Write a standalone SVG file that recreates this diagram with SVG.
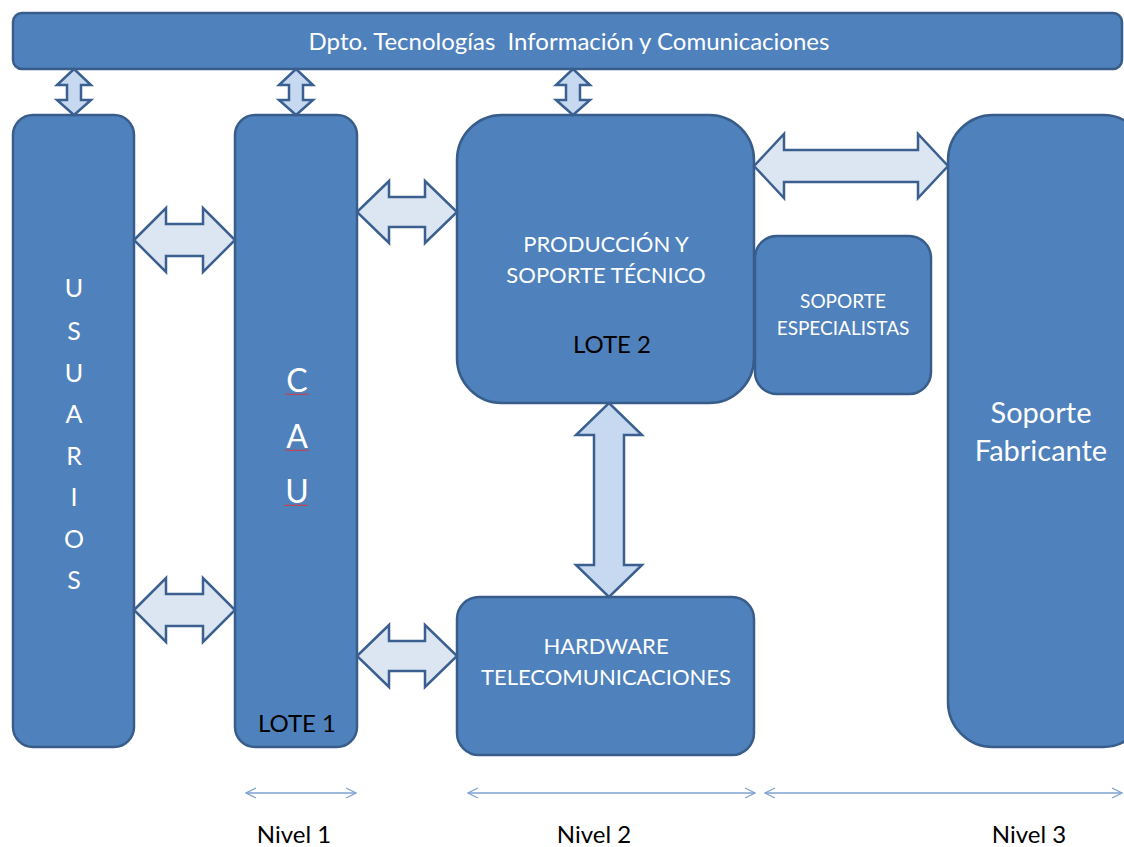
<svg xmlns="http://www.w3.org/2000/svg" width="1124" height="847" viewBox="0 0 1124 847">
<style>
.box{fill:#4F81BD;stroke:#385D8A;stroke-width:2.5}
.ah{fill:#DCE6F2;stroke:#3B6090;stroke-width:2.5;stroke-linejoin:miter}
.av{fill:#C6D9F1;stroke:#3B6090;stroke-width:2.5;stroke-linejoin:miter}
.w{fill:#FFFFFF;font-family:Lato,"Open Sans",sans-serif;text-anchor:middle;white-space:pre}
.k{fill:#000000;font-family:Lato,"Open Sans",sans-serif;text-anchor:middle}
.lv{stroke:#7EA2D0;stroke-width:1.3;fill:none}
.sq{stroke:#E03030;stroke-width:1;fill:none}
</style>
<defs>
<marker id="op" viewBox="0 0 12 12" refX="11" refY="6" markerWidth="12" markerHeight="12" markerUnits="userSpaceOnUse" orient="auto-start-reverse">
<path d="M1,1 L11,6 L1,11" fill="none" stroke="#7EA2D0" stroke-width="1.3"/>
</marker>
</defs>
<g id="dpto">
<rect class="box" x="13" y="13" width="1109" height="56" rx="9"/>
<text class="w" x="569" y="50" font-size="24" xml:space="preserve">Dpto. Tecnologías  Información y Comunicaciones</text>
</g>
<g id="usuarios">
<rect class="box" x="13" y="115" width="121" height="632" rx="20"/>
<g class="w" font-size="25">
<text x="74" y="297">U</text>
<text x="74" y="339.5">S</text>
<text x="74" y="382">U</text>
<text x="74" y="423">A</text>
<text x="74" y="465">R</text>
<text x="74" y="506">I</text>
<text x="74" y="548">O</text>
<text x="74" y="589">S</text>
</g>
</g>
<g id="cau">
<rect class="box" x="235" y="115" width="122" height="632" rx="20"/>
<g class="w" font-size="32">
<text x="297" y="392">C</text>
<text x="297" y="448">A</text>
<text x="297" y="503">U</text>
</g>
<path class="sq" d="M285,395 l1.5,-1.5 l1.5,1.5 l1.5,-1.5 l1.5,1.5 l1.5,-1.5 l1.5,1.5 l1.5,-1.5 l1.5,1.5 l1.5,-1.5 l1.5,1.5 l1.5,-1.5 l1.5,1.5 l1.5,-1.5 l1.5,1.5 l1.5,-1.5 l1.5,1.5"/>
<path class="sq" d="M285,451 l1.5,-1.5 l1.5,1.5 l1.5,-1.5 l1.5,1.5 l1.5,-1.5 l1.5,1.5 l1.5,-1.5 l1.5,1.5 l1.5,-1.5 l1.5,1.5 l1.5,-1.5 l1.5,1.5 l1.5,-1.5 l1.5,1.5 l1.5,-1.5 l1.5,1.5"/>
<path class="sq" d="M284,506 l1.5,-1.5 l1.5,1.5 l1.5,-1.5 l1.5,1.5 l1.5,-1.5 l1.5,1.5 l1.5,-1.5 l1.5,1.5 l1.5,-1.5 l1.5,1.5 l1.5,-1.5 l1.5,1.5 l1.5,-1.5 l1.5,1.5 l1.5,-1.5 l1.5,1.5"/>
<text class="k" x="297" y="732" font-size="24">LOTE 1</text>
</g>
<g id="produccion">
<rect class="box" x="457" y="115" width="297" height="288" rx="45"/>
<text class="w" x="606" y="252" font-size="22">PRODUCCIÓN Y</text>
<text class="w" x="606" y="283" font-size="22">SOPORTE TÉCNICO</text>
<text class="k" x="612" y="353" font-size="24">LOTE 2</text>
</g>
<g id="especialistas">
<rect class="box" x="755" y="236" width="176" height="158" rx="22"/>
<text class="w" x="843" y="308" font-size="19">SOPORTE</text>
<text class="w" x="843" y="335" font-size="19">ESPECIALISTAS</text>
</g>
<g id="hardware">
<rect class="box" x="457" y="597" width="297" height="158" rx="22"/>
<text class="w" x="606" y="654" font-size="22">HARDWARE</text>
<text class="w" x="606" y="685" font-size="22">TELECOMUNICACIONES</text>
</g>
<g id="fabricante">
<rect class="box" x="948" y="115" width="200" height="632" rx="45"/>
<text class="w" x="1041" y="423" font-size="29">Soporte</text>
<text class="w" x="1041" y="461" font-size="29">Fabricante</text>
</g>
<g id="connectors">
<path class="av" d="M74,69 L91,85 L81,85 L81,100 L91,100 L74,115 L57,100 L67,100 L67,85 L57,85 Z"/>
<path class="av" d="M296,69 L313,85 L303,85 L303,100 L313,100 L296,115 L279,100 L289,100 L289,85 L279,85 Z"/>
<path class="av" d="M573,69 L590,85 L580,85 L580,100 L590,100 L573,115 L556,100 L566,100 L566,85 L556,85 Z"/>
<path class="ah" d="M134,240 L166,208 L166,224 L203,224 L203,208 L235,240 L203,272 L203,256 L166,256 L166,272 Z"/>
<path class="ah" d="M134,610 L166,578 L166,594 L203,594 L203,578 L235,610 L203,642 L203,626 L166,626 L166,642 Z"/>
<path class="ah" d="M357,212 L389,181 L389,197 L425,197 L425,181 L457,212 L425,243 L425,227 L389,227 L389,243 Z"/>
<path class="ah" d="M357,656 L389,625 L389,641 L425,641 L425,625 L457,656 L425,687 L425,671 L389,671 L389,687 Z"/>
<path class="ah" d="M754,166 L784,134 L784,150 L918,150 L918,134 L948,166 L918,198 L918,182 L784,182 L784,198 Z"/>
<path class="av" d="M609,403 L642,435 L624,435 L624,565 L642,565 L609,597 L576,565 L594,565 L594,435 L576,435 Z"/>
<line class="lv" x1="246" y1="793" x2="356" y2="793" marker-start="url(#op)" marker-end="url(#op)"/>
<line class="lv" x1="468" y1="793" x2="755" y2="793" marker-start="url(#op)" marker-end="url(#op)"/>
<line class="lv" x1="765" y1="793" x2="1122" y2="793" marker-start="url(#op)" marker-end="url(#op)"/>
</g>
<g id="niveles">
<text class="k" x="294" y="843" font-size="24">Nivel 1</text>
<text class="k" x="594" y="843" font-size="24">Nivel 2</text>
<text class="k" x="1029" y="843" font-size="24">Nivel 3</text>
</g>
</svg>
